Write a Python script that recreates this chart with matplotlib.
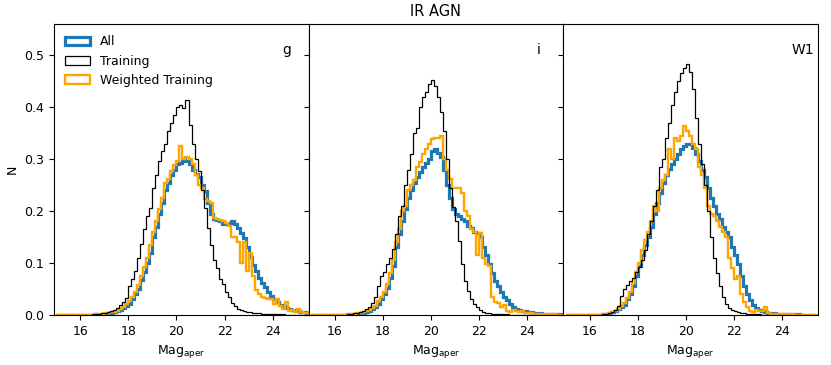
import numpy as np
import matplotlib
matplotlib.use("Agg")
import matplotlib.pyplot as plt
from matplotlib.patches import Patch

# Histogram bins: width 0.125 mag starting at 16.5 (72 bins up to 25.5)
bin_start = 16.5
bin_width = 0.125

bands = ["g", "i", "W1"]

# ---- g band ----
g_all = [0.000, 0.001, 0.001, 0.002, 0.002, 0.003, 0.004, 0.005,
         0.007, 0.010, 0.013, 0.018, 0.022, 0.030, 0.040, 0.050,
         0.068, 0.082, 0.100, 0.120, 0.150, 0.170, 0.195, 0.215,
         0.240, 0.255, 0.270, 0.280, 0.290, 0.293, 0.300, 0.296,
         0.290, 0.280, 0.272, 0.265, 0.250, 0.238, 0.215, 0.195,
         0.185, 0.182, 0.180, 0.176, 0.175, 0.178, 0.180, 0.176,
         0.168, 0.158, 0.148, 0.130, 0.112, 0.097, 0.085, 0.072,
         0.062, 0.053, 0.045, 0.037, 0.030, 0.025, 0.020, 0.017,
         0.014, 0.012, 0.010, 0.008, 0.007, 0.006, 0.005, 0.004]
g_train = [0.001, 0.002, 0.002, 0.003, 0.004, 0.006, 0.008, 0.010,
           0.014, 0.019, 0.025, 0.033, 0.055, 0.070, 0.085, 0.110,
           0.136, 0.165, 0.190, 0.206, 0.245, 0.270, 0.296, 0.315,
           0.330, 0.355, 0.370, 0.385, 0.400, 0.405, 0.398, 0.413,
           0.365, 0.330, 0.300, 0.277, 0.240, 0.206, 0.168, 0.135,
           0.105, 0.090, 0.070, 0.060, 0.045, 0.035, 0.024, 0.018,
           0.012, 0.010, 0.008, 0.006, 0.005, 0.004, 0.003, 0.003,
           0.002, 0.002, 0.002, 0.001, 0.001, 0.001, 0.001, 0.001,
           0.000, 0.000, 0.000, 0.000, 0.000, 0.000, 0.000, 0.000]
g_wtrain = [0.000, 0.001, 0.001, 0.002, 0.003, 0.003, 0.005, 0.006,
            0.008, 0.012, 0.016, 0.022, 0.027, 0.035, 0.045, 0.057,
            0.075, 0.092, 0.110, 0.135, 0.160, 0.180, 0.205, 0.225,
            0.255, 0.262, 0.278, 0.288, 0.296, 0.325, 0.300, 0.305,
            0.300, 0.290, 0.270, 0.250, 0.245, 0.223, 0.220, 0.215,
            0.186, 0.185, 0.182, 0.180, 0.178, 0.172, 0.150, 0.150,
            0.140, 0.100, 0.140, 0.085, 0.120, 0.075, 0.048, 0.040,
            0.035, 0.033, 0.030, 0.030, 0.022, 0.030, 0.018, 0.012,
            0.025, 0.008, 0.010, 0.006, 0.012, 0.005, 0.004, 0.003]

# ---- i band ----
i_all = [0.001, 0.001, 0.002, 0.002, 0.003, 0.004, 0.006, 0.008,
         0.012, 0.016, 0.022, 0.030, 0.040, 0.052, 0.072, 0.095,
         0.130, 0.155, 0.180, 0.205, 0.225, 0.240, 0.255, 0.265,
         0.275, 0.285, 0.293, 0.300, 0.315, 0.320, 0.312, 0.305,
         0.280, 0.250, 0.225, 0.205, 0.195, 0.190, 0.185, 0.180,
         0.172, 0.168, 0.160, 0.157, 0.150, 0.130, 0.115, 0.098,
         0.080, 0.066, 0.055, 0.045, 0.035, 0.028, 0.021, 0.016,
         0.012, 0.010, 0.008, 0.007, 0.006, 0.005, 0.004, 0.003,
         0.003, 0.002, 0.002, 0.002, 0.002, 0.001, 0.001, 0.001]
i_train = [0.001, 0.002, 0.003, 0.004, 0.006, 0.008, 0.012, 0.016,
           0.024, 0.035, 0.055, 0.075, 0.082, 0.098, 0.110, 0.127,
           0.155, 0.190, 0.210, 0.250, 0.280, 0.310, 0.350, 0.360,
           0.400, 0.420, 0.430, 0.445, 0.452, 0.440, 0.420, 0.390,
           0.355, 0.300, 0.245, 0.207, 0.180, 0.143, 0.098, 0.066,
           0.047, 0.030, 0.021, 0.015, 0.010, 0.006, 0.004, 0.003,
           0.002, 0.002, 0.001, 0.001, 0.001, 0.001, 0.000, 0.000,
           0.000, 0.000, 0.000, 0.000, 0.000, 0.000, 0.000, 0.000,
           0.000, 0.000, 0.000, 0.000, 0.000, 0.000, 0.000, 0.000]
i_wtrain = [0.001, 0.001, 0.002, 0.003, 0.004, 0.006, 0.008, 0.010,
            0.014, 0.018, 0.026, 0.035, 0.045, 0.060, 0.080, 0.105,
            0.140, 0.165, 0.200, 0.210, 0.240, 0.250, 0.260, 0.285,
            0.295, 0.310, 0.320, 0.330, 0.338, 0.340, 0.340, 0.345,
            0.300, 0.280, 0.262, 0.245, 0.245, 0.245, 0.235, 0.200,
            0.190, 0.165, 0.160, 0.115, 0.158, 0.110, 0.098, 0.095,
            0.035, 0.025, 0.024, 0.015, 0.020, 0.008, 0.006, 0.010,
            0.008, 0.005, 0.008, 0.004, 0.003, 0.003, 0.002, 0.002,
            0.002, 0.001, 0.001, 0.001, 0.001, 0.001, 0.000, 0.000]

# ---- W1 band ----
w1_all = [0.001, 0.002, 0.003, 0.005, 0.008, 0.011, 0.015, 0.020,
          0.030, 0.040, 0.055, 0.075, 0.095, 0.115, 0.135, 0.150,
          0.170, 0.195, 0.215, 0.235, 0.255, 0.270, 0.282, 0.290,
          0.300, 0.310, 0.320, 0.326, 0.330, 0.330, 0.322, 0.310,
          0.297, 0.280, 0.265, 0.245, 0.225, 0.210, 0.195, 0.185,
          0.170, 0.160, 0.150, 0.130, 0.115, 0.098, 0.075, 0.055,
          0.040, 0.028, 0.020, 0.013, 0.010, 0.007, 0.005, 0.004,
          0.003, 0.003, 0.002, 0.002, 0.002, 0.001, 0.001, 0.001,
          0.001, 0.001, 0.000, 0.000, 0.000, 0.000, 0.000, 0.000]
w1_train = [0.001, 0.002, 0.003, 0.005, 0.010, 0.018, 0.037, 0.050,
            0.058, 0.065, 0.072, 0.082, 0.092, 0.105, 0.125, 0.155,
            0.180, 0.210, 0.240, 0.285, 0.300, 0.340, 0.370, 0.405,
            0.430, 0.450, 0.465, 0.475, 0.483, 0.467, 0.435, 0.380,
            0.330, 0.290, 0.250, 0.200, 0.150, 0.110, 0.080, 0.055,
            0.035, 0.022, 0.014, 0.010, 0.007, 0.005, 0.004, 0.003,
            0.002, 0.002, 0.001, 0.001, 0.001, 0.000, 0.000, 0.000,
            0.000, 0.000, 0.000, 0.000, 0.000, 0.000, 0.000, 0.000,
            0.000, 0.000, 0.000, 0.000, 0.000, 0.000, 0.000, 0.000]
w1_wtrain = [0.001, 0.002, 0.003, 0.005, 0.008, 0.012, 0.017, 0.023,
             0.033, 0.045, 0.062, 0.082, 0.100, 0.125, 0.145, 0.160,
             0.180, 0.210, 0.200, 0.245, 0.260, 0.270, 0.320, 0.300,
             0.340, 0.335, 0.345, 0.364, 0.355, 0.345, 0.330, 0.320,
             0.285, 0.270, 0.245, 0.210, 0.195, 0.190, 0.180, 0.170,
             0.160, 0.150, 0.110, 0.090, 0.070, 0.075, 0.040, 0.025,
             0.015, 0.008, 0.006, 0.010, 0.008, 0.007, 0.015, 0.004,
             0.002, 0.002, 0.001, 0.001, 0.001, 0.001, 0.001, 0.001,
             0.000, 0.000, 0.000, 0.000, 0.000, 0.000, 0.000, 0.000]

series_all = [g_all, i_all, w1_all]
series_train = [g_train, i_train, w1_train]
series_wtrain = [g_wtrain, i_wtrain, w1_wtrain]

labels = ["All", "Training", "Weighted Training"]
xticks = [16, 18, 20, 22, 24]
yticks = [0.0, 0.1, 0.2, 0.3, 0.4, 0.5]

col_all = '#1f77b4'
col_train = 'black'
col_wtrain = 'orange'
lw_all, lw_train, lw_wtrain = 2.3, 0.9, 1.7

plt.rcParams['font.family'] = ['DejaVu Sans']

fig, axes = plt.subplots(1, 3, sharey=True, figsize=(8.31, 3.65), dpi=100)
fig.subplots_adjust(left=0.065, right=0.984, top=0.934, bottom=0.137, wspace=0)

pad_lo, pad_hi = 12, 12  # zero-count bins padded on each side of the data range


def padded(vals):
    v = np.asarray(vals, dtype=float)
    return np.concatenate([np.zeros(pad_lo), v, np.zeros(pad_hi)])


for k, ax in enumerate(axes):
    n = len(series_all[k]) + pad_lo + pad_hi
    edges = bin_start - pad_lo * bin_width + bin_width * np.arange(n + 1)
    ax.stairs(padded(series_all[k]), edges, color=col_all, linewidth=lw_all, zorder=2)
    ax.stairs(padded(series_train[k]), edges, color=col_train, linewidth=lw_train, zorder=4)
    ax.stairs(padded(series_wtrain[k]), edges, color=col_wtrain, linewidth=lw_wtrain, zorder=3)
    ax.set_xlim(14.9, 25.5)
    ax.set_ylim(0, 0.56)
    ax.set_xticks(xticks)
    ax.set_yticks(yticks)
    ax.tick_params(labelsize=9)
    ax.set_xlabel(r'Mag$_{\rm aper}$', fontsize=9)
    ax.text(24.4, 0.51, bands[k], fontsize=10, ha='left', va='center')

handles = [Patch(facecolor='none', edgecolor=col_all, linewidth=lw_all),
           Patch(facecolor='none', edgecolor=col_train, linewidth=lw_train),
           Patch(facecolor='none', edgecolor=col_wtrain, linewidth=lw_wtrain)]
axes[0].legend(handles, labels, loc='upper left', frameon=False, fontsize=9)
axes[0].set_ylabel('N', fontsize=9)
axes[1].set_title('IR AGN', fontsize=10.5)

fig.savefig('out.png', dpi=100)
